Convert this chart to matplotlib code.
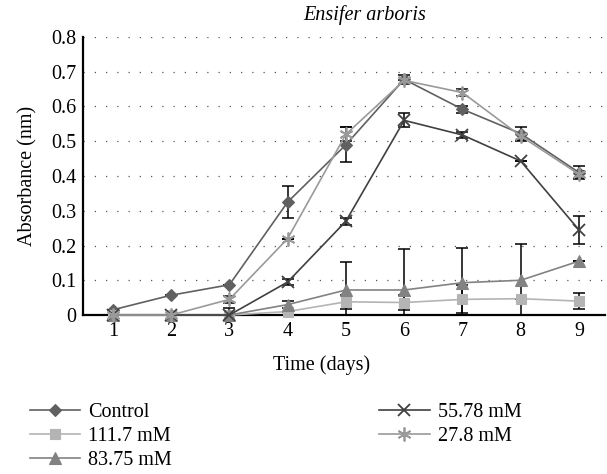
import matplotlib
matplotlib.use('Agg')
from matplotlib import pyplot as plt

plt.rcParams['font.family'] = ['Liberation Serif', 'DejaVu Serif']

days = [1, 2, 3, 4, 5, 6, 7, 8, 9]

control = [0.015, 0.057, 0.087, 0.325, 0.49, 0.678, 0.592, 0.522, 0.41]
control_err = [0, 0, 0, 0.045, 0.05, 0.012, 0.01, 0.02, 0.02]

c111 = [0, 0, 0, 0.01, 0.038, 0.036, 0.045, 0.047, 0.04]
c111_err = [0, 0, 0, 0, 0.02, 0.021, 0.04, 0, 0.022]

c83 = [0, 0, 0, 0.03, 0.072, 0.072, 0.093, 0.1, 0.155]
c83_err = [0, 0, 0, 0.01, 0.08, 0.118, 0.1, 0.103, 0]

c55 = [0, 0, 0, 0.095, 0.27, 0.56, 0.518, 0.443, 0.245]
c55_err = [0, 0, 0.02, 0.01, 0.01, 0.02, 0.01, 0, 0.04]

c27 = [0, 0, 0.045, 0.22, 0.52, 0.675, 0.64, 0.515, 0.405]
c27_err = [0, 0, 0.01, 0, 0.02, 0, 0.01, 0.01, 0.01]

etiquetas = ['Control', '111.7 mM', '83.75 mM', '55.78 mM', '27.8 mM']
series = [control, c111, c83, c55, c27]
errores = [control_err, c111_err, c83_err, c55_err, c27_err]
colores = ['#606060', '#b4b4b4', '#828282', '#404040', '#9a9a9a']
marcadores = ['D', 's', '^', 'x', (6, 2, 0)]
tamanos = [6.5, 7.5, 8, 9, 10]

fs = 14.5

fig = plt.figure(figsize=(6.07, 4.74), dpi=100)
ax = fig.add_axes([0.137, 0.3354, 0.86, 0.5866])

for y, e, c, m, s, lab in zip(series, errores, colores, marcadores, tamanos, etiquetas):
    ax.errorbar(days, y, yerr=e, fmt='none', ecolor='black', elinewidth=1.1,
                capsize=4, capthick=1.1, zorder=2)
    ax.plot(days, y, color=c, marker=m, markersize=s, linewidth=1.2,
            markeredgewidth=1.3 if m in ('x', (6, 2, 0)) else 0.8,
            label=lab, clip_on=False, zorder=3)

ax.set_xlim(0.49, 9.45)
ax.set_ylim(0, 0.8)
ax.set_xticks(days)
ax.set_yticks([0, 0.1, 0.2, 0.3, 0.4, 0.5, 0.6, 0.7, 0.8])
ax.set_yticklabels(['0', '0.1', '0.2', '0.3', '0.4', '0.5', '0.6', '0.7', '0.8'])
ax.tick_params(labelsize=fs, length=0, pad=5)
ax.yaxis.grid(True, linestyle=(0, (1, 8)), color='#555555', linewidth=0.9)
ax.set_axisbelow(True)
for lado in ['top', 'right']:
    ax.spines[lado].set_visible(False)
ax.spines['left'].set_linewidth(1.6)
ax.spines['bottom'].set_linewidth(1.6)

ax.set_ylabel('Absorbance (nm)', fontsize=fs, labelpad=10)
fig.text(322 / 607, 1 - 365 / 474, 'Time (days)', fontsize=fs, ha='center', va='center')
fig.text(365 / 607, 1 - 15 / 474, 'Ensifer arboris', fontsize=fs, style='italic',
         ha='center', va='center')

fig.legend(loc='upper left', bbox_to_anchor=(0.049, 0.15), ncol=2, frameon=False,
           fontsize=fs, handlelength=2.5, handletextpad=0.4, columnspacing=10.3,
           labelspacing=0.25, borderpad=0, borderaxespad=0)

fig.savefig('out.png', dpi=100)
